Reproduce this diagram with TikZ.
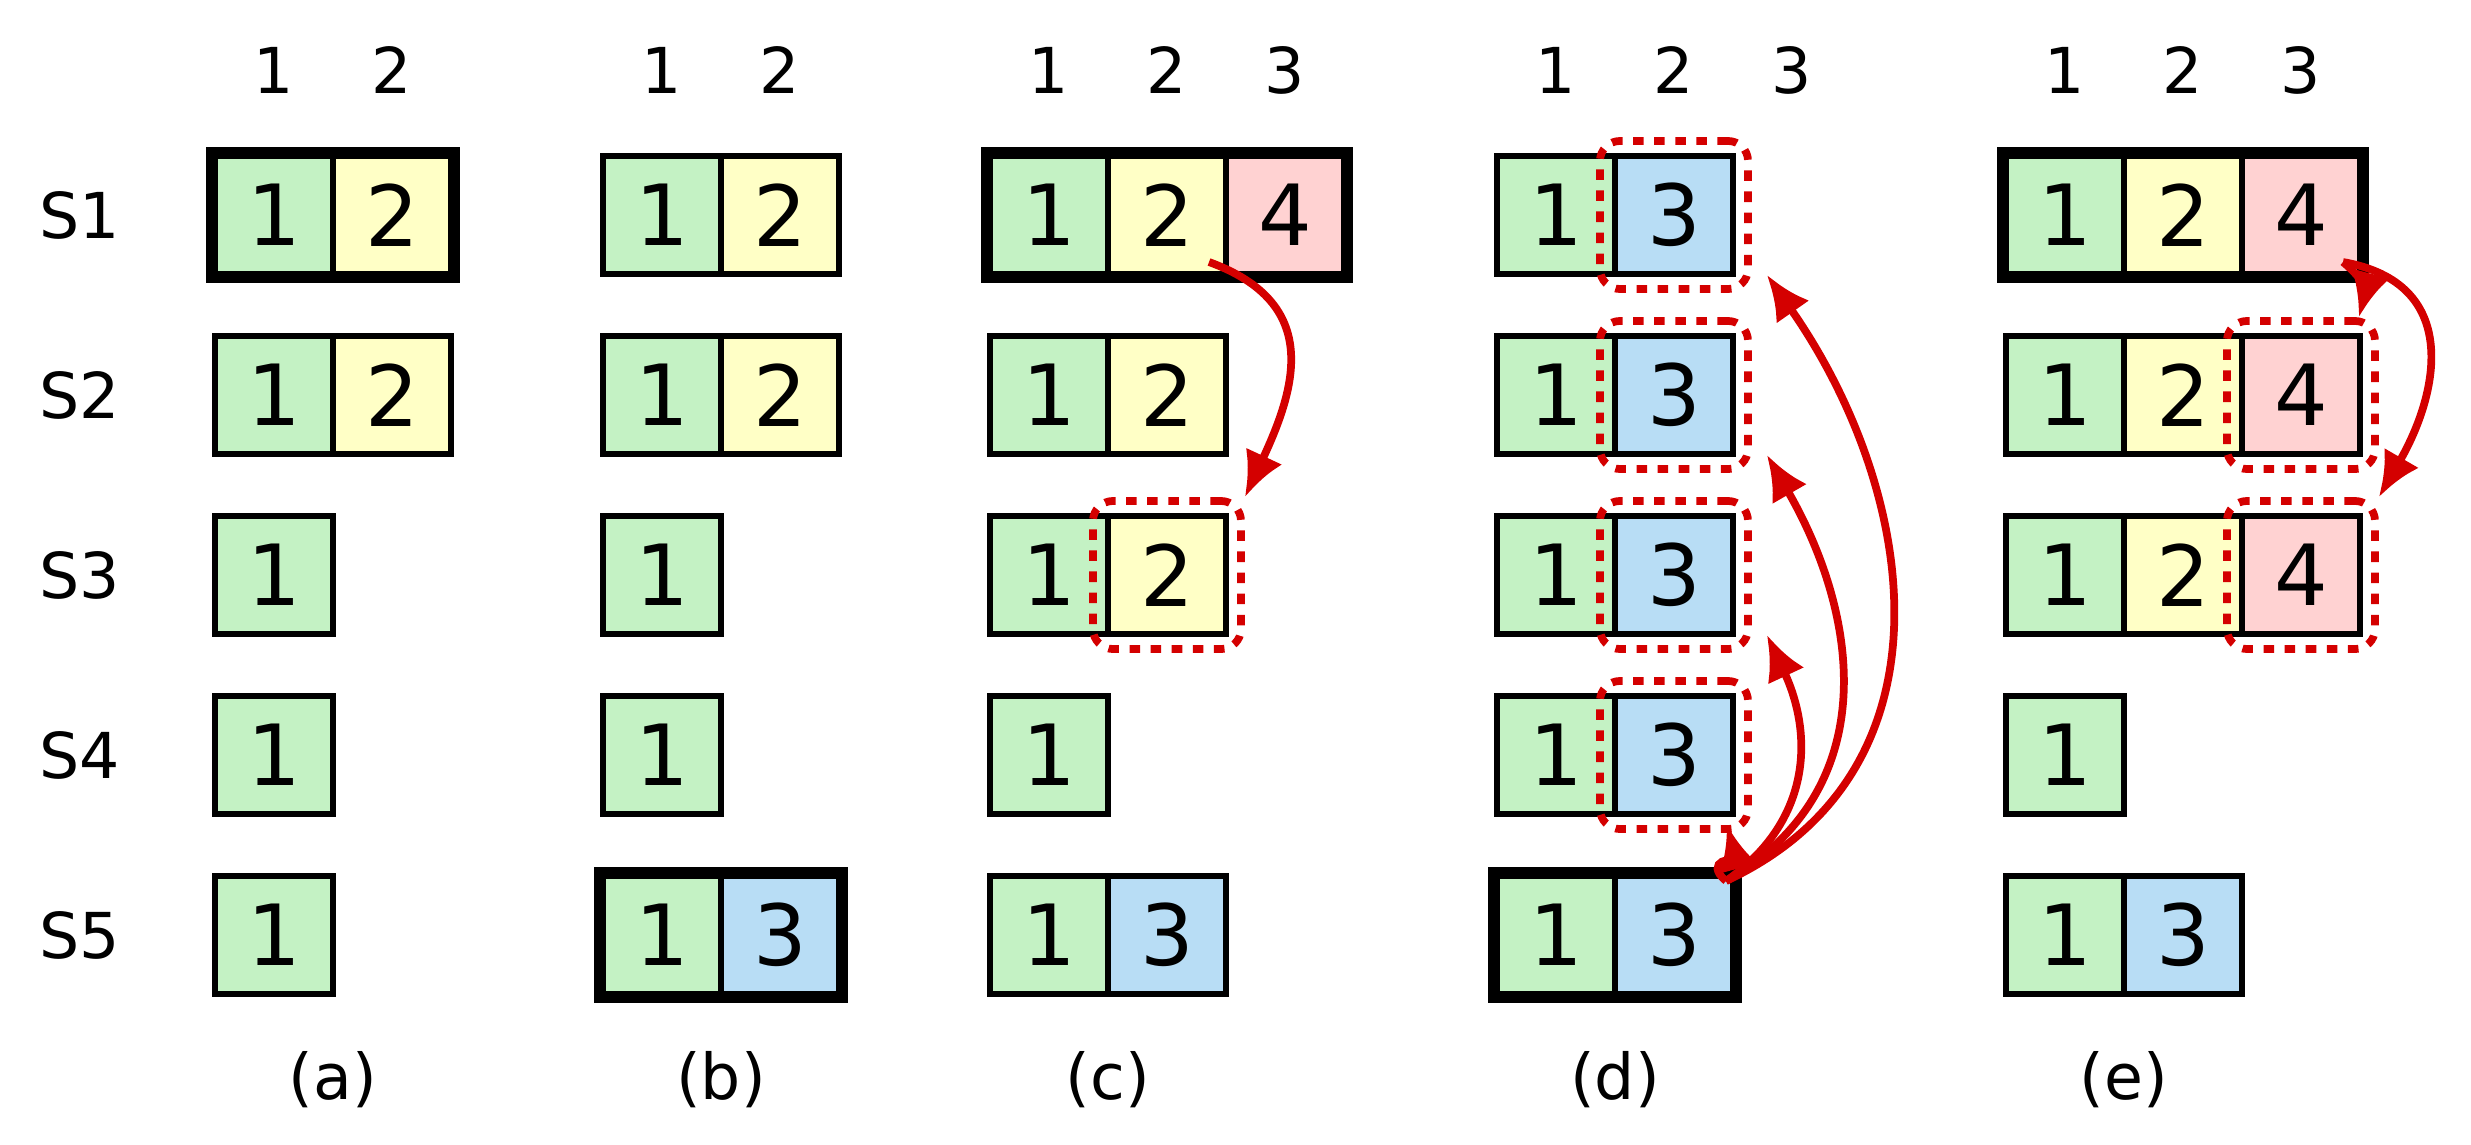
\documentclass[tikz,border=0pt]{standalone}
\usepackage{fontspec}
\setmainfont{DejaVu Sans}
\usetikzlibrary{positioning,arrows.meta,fit,calc}
\definecolor{G}{HTML}{C4F2C4}
\definecolor{Y}{HTML}{FFFFC6}
\definecolor{P}{HTML}{FFD2D2}
\definecolor{B}{HTML}{B8DDF5}
\definecolor{arrred}{HTML}{D40000}
\tikzset{
    cell/.style={
        shape=rectangle,
        draw,
        line width=1.7pt,
        minimum size=1.18cm,
        inner sep=0pt,
        font=\fontsize{24}{24}\selectfont
    },
    lead/.style={draw, line width=3.6pt, inner sep=0pt},
    pend/.style={draw=arrred, dashed, line width=2.2pt, rounded corners=2mm, inner sep=1.2mm},
    hdr/.style={font=\fontsize{18}{18}\selectfont},
    redarrow/.style={draw=arrred, line width=2.2pt, -{Latex[length=4.5mm,width=4mm]}}
}
\begin{document}
\begin{tikzpicture}[x=0.01cm, y=-0.01cm]
			\useasboundingbox (0,0) rectangle (2471,1145);
			% row labels
			\foreach \r/\yy in {1/215,2/395,3/575,4/755,5/935}
			    \node[hdr] (s\r) at (80,\yy) {S\r};
			% column (a)
			\foreach \r/\logs in {1/{G/1,Y/2},2/{G/1,Y/2},3/{G/1},4/{G/1},5/{G/1}}
			    \foreach \c/\n [count=\k] in \logs
			        \node[cell, fill=\c] (a\r\k) at (274+118*\k-118, 215+180*\r-180) {\n};
			% column (b)
			\foreach \r/\logs in {1/{G/1,Y/2},2/{G/1,Y/2},3/{G/1},4/{G/1},5/{G/1,B/3}}
			    \foreach \c/\n [count=\k] in \logs
			        \node[cell, fill=\c] (b\r\k) at (662+118*\k-118, 215+180*\r-180) {\n};
			% column (c)
			\foreach \r/\logs in {1/{G/1,Y/2,P/4},2/{G/1,Y/2},3/{G/1,Y/2},4/{G/1},5/{G/1,B/3}}
			    \foreach \c/\n [count=\k] in \logs
			        \node[cell, fill=\c] (c\r\k) at (1049+118*\k-118, 215+180*\r-180) {\n};
			% column (d)
			\foreach \r/\logs in {1/{G/1,B/3},2/{G/1,B/3},3/{G/1,B/3},4/{G/1,B/3},5/{G/1,B/3}}
			    \foreach \c/\n [count=\k] in \logs
			        \node[cell, fill=\c] (d\r\k) at (1556+118*\k-118, 215+180*\r-180) {\n};
			% column (e)
			\foreach \r/\logs in {1/{G/1,Y/2,P/4},2/{G/1,Y/2,P/4},3/{G/1,Y/2,P/4},4/{G/1},5/{G/1,B/3}}
			    \foreach \c/\n [count=\k] in \logs
			        \node[cell, fill=\c] (e\r\k) at (2065+118*\k-118, 215+180*\r-180) {\n};
			
			% index headers and captions
			\foreach \col/\x/\m in {a/274/2,b/662/2,c/1049/3,d/1556/3,e/2065/3}{
			    \foreach \i in {1,...,\m}
			        \node[hdr] (h\col\i) at (\x+118*\i-118, 70) {\i};
			    \node[hdr] (cap\col) at (\x+59, 1080) {(\col)};
			}
			
			% leaders
			\node[lead, fit=(a11)(a12)] (lda) {};
			\node[lead, fit=(b51)(b52)] (ldb) {};
			\node[lead, fit=(c11)(c13)] (ldc) {};
			\node[lead, fit=(d51)(d52)] (ldd) {};
			\node[lead, fit=(e11)(e13)] (lde) {};
			
			% pending entries
			\node[pend, fit=(c32)] (pc3) {};
			\foreach \r in {1,...,4}
			    \node[pend, fit=(d\r2)] (pd\r) {};
			\node[pend, fit=(e23)] (pe2) {};
			\node[pend, fit=(e33)] (pe3) {};
			
			% replication
			\coordinate (sc) at ($(c12.south east)+(-20,-15)$);
			\draw[redarrow] (sc) to[out=-20, in=65, looseness=1.3] (pc3.north east);
			\coordinate (sd) at ($(d52.north east)+(-10,8)$);
			\draw[redarrow] (sd) to[out=140, in=-75, looseness=1.4] ($(pd4.south east)+(-25,-8)$);
			\draw[redarrow] (sd) to[out=35, in=-65, looseness=1.1] ($(pd3.south east)+(15,-18)$);
			\draw[redarrow] (sd) to[out=30, in=-60, looseness=1.1] ($(pd2.south east)+(15,-18)$);
			\draw[redarrow] (sd) to[out=25, in=-55, looseness=1.1] ($(pd1.south east)+(15,-18)$);
			\coordinate (se) at ($(e13.south east)+(-20,-15)$);
			\draw[redarrow] (se) to[out=-40, in=75, looseness=1.2] ($(pe2.north east)+(-20,0)$);
			\draw[redarrow] (se) to[out=-10, in=60, looseness=1.3] (pe3.north east);
		\end{tikzpicture}
\end{document}
